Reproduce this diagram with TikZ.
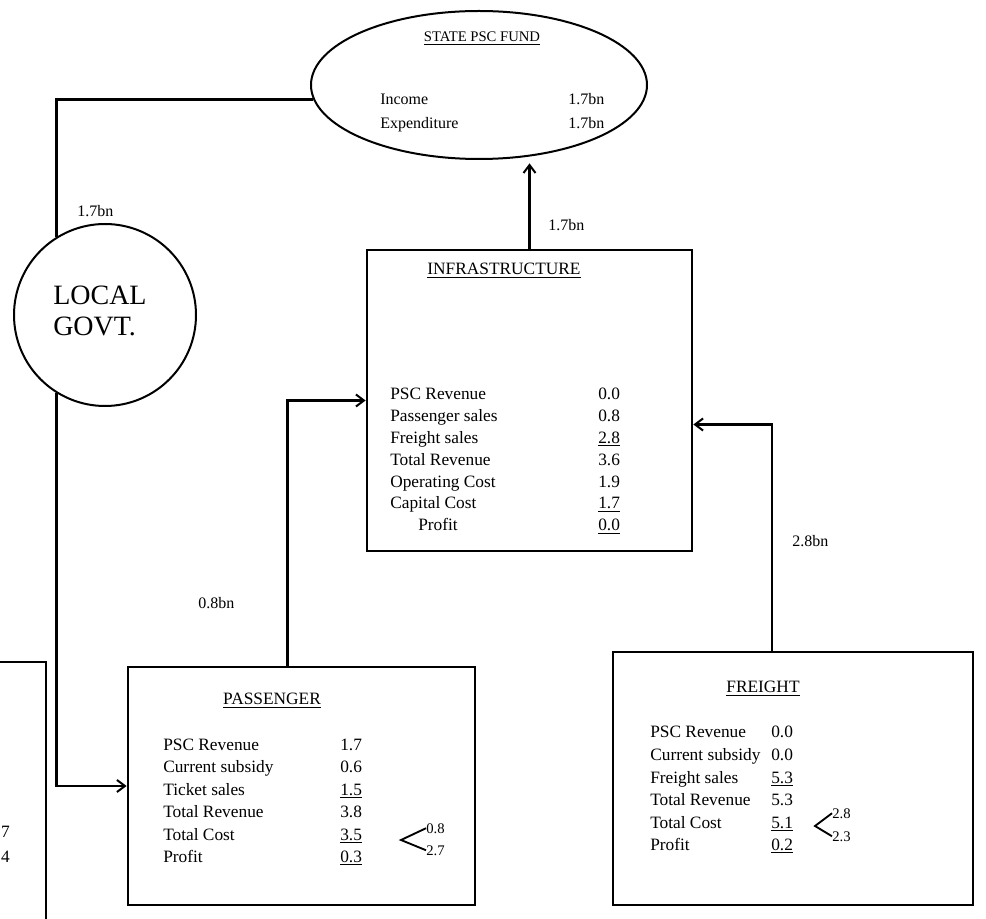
\documentclass[tikz,border=0pt]{standalone}
\usepackage{fontspec}
\setmainfont{Liberation Serif}
\usetikzlibrary{arrows.meta,shapes.geometric,calc}

\begin{document}
\begin{tikzpicture}[x=0.75pt,y=-0.75pt,
  frame/.style={draw, line width=2.1pt, rectangle, inner sep=0pt},
  rowtext/.style={font=\fontsize{13}{15}\selectfont, inner sep=0pt, anchor=base west},
  smalltext/.style={font=\fontsize{11}{13}\selectfont, inner sep=0pt, anchor=base west},
  titletext/.style={font=\fontsize{13}{15}\selectfont, inner sep=0pt, anchor=base},
  flowlabel/.style={font=\fontsize{12}{14}\selectfont, inner sep=0pt, anchor=base west},
  link/.style={line width=2.1pt},
  flow/.style={link, -{Straight Barb[length=6pt,width=9pt,line width=1.5pt]}},
]
\useasboundingbox (0,0) rectangle (986,919);
\clip (0,0) rectangle (986,919);

% ---- state fund (ellipse) ----
\node[draw, ellipse, line width=1.5pt, inner sep=0pt,
      minimum width=252pt, minimum height=111pt] (fund) at (479,85) {};
\node[titletext, font=\fontsize{11}{13}\selectfont] (fundT) at (482,42) {\underline{STATE PSC FUND}};
\node[rowtext, font=\fontsize{12}{14}\selectfont] (fundL1) at (380,105) {Income};
\node[rowtext, font=\fontsize{12}{14}\selectfont] (fundV1) at (568,105) {1.7bn};
\node[rowtext, font=\fontsize{12}{14}\selectfont] (fundL2) at (380,129) {Expenditure};
\node[rowtext, font=\fontsize{12}{14}\selectfont] (fundV2) at (568,129) {1.7bn};

% ---- local government (circle) ----
\node[draw, circle, line width=1.5pt, inner sep=0pt, minimum size=136.5pt] (gov) at (105,315) {};
\node[font=\fontsize{21}{23}\selectfont, inner sep=0pt, anchor=base west] (govA) at (53,305) {LOCAL};
\node[font=\fontsize{21}{23}\selectfont, inner sep=0pt, anchor=base west] (govB) at (53,336) {GOVT.};

% ---- infrastructure ----
\node[frame, minimum width=243.75pt, minimum height=225.75pt] (infra) at (529.5,400.5) {};
\node[titletext] (infraT) at (504,275) {\underline{INFRASTRUCTURE}};
\foreach \lab/\val [count=\i] in {PSC Revenue/0.0, Passenger sales/0.8,
    Freight sales/\underline{2.8}, Total Revenue/3.6, Operating Cost/1.9,
    Capital Cost/\underline{1.7}, \hspace*{21pt}Profit/\underline{0.0}} {
  \node[rowtext] (infraL\i) at (390,{400+(\i-1)*21.8}) {\lab};
  \node[rowtext] (infraV\i) at (598,{400+(\i-1)*21.8}) {\val};
}

% ---- passenger ----
\node[frame, minimum width=260.25pt, minimum height=178.5pt] (pass) at (301.5,786) {};
\node[titletext] (passT) at (272,705) {\underline{PASSENGER}};
\foreach \lab/\val [count=\i] in {PSC Revenue/1.7, Current subsidy/0.6,
    Ticket sales/\underline{1.5}, Total Revenue/3.8, Total Cost/\underline{3.5},
    Profit/\underline{0.3}} {
  \node[rowtext] (passL\i) at (163,{750+(\i-1)*22.5}) {\lab};
  \node[rowtext] (passV\i) at (340,{750+(\i-1)*22.5}) {\val};
}
\node[smalltext] (passS1) at (426,833) {0.8};
\node[smalltext] (passS2) at (426,855) {2.7};
\coordinate (passFork) at (401,840);
\draw[line width=1.4pt] (passS1.west) -- (passFork) -- (passS2.west);

% ---- freight ----
\node[frame, minimum width=270pt, minimum height=189.75pt] (freight) at (793,778.5) {};
\node[titletext] (freightT) at (763,693) {\underline{FREIGHT}};
\foreach \lab/\val [count=\i] in {PSC Revenue/0.0, Current subsidy/0.0,
    Freight sales/\underline{5.3}, Total Revenue/5.3, Total Cost/\underline{5.1},
    Profit/\underline{0.2}} {
  \node[rowtext] (freightL\i) at (650,{738+(\i-1)*22.5}) {\lab};
  \node[rowtext] (freightV\i) at (771,{738+(\i-1)*22.5}) {\val};
}
\node[smalltext] (freightS1) at (832,818) {2.8};
\node[smalltext] (freightS2) at (832,841) {2.3};
\coordinate (freightFork) at (815,826);
\draw[line width=1.4pt] (freightS1.west) -- (freightFork) -- (freightS2.west);

% ---- box running off the left edge ----
\node[frame, minimum width=184.5pt, minimum height=223.5pt] (side) at (-77,811) {};
\node[rowtext, anchor=base east] (sideV1) at (10,837) {7};
\node[rowtext, anchor=base east] (sideV2) at (10,862) {4};

% ---- money flows ----
\draw[link] (fund.185) -| (gov.122);
\node[flowlabel] (flowA) at (77,217) {1.7bn};
\draw[flow] (gov.238) |- (pass.west);
\draw[flow] ([xshift=-10.5pt]pass.north) |- (infra.west);
\node[flowlabel] (flowB) at (198,609) {0.8bn};
\draw[flow] ([xshift=-15.75pt]freight.north) |- ([yshift=-18pt]infra.east);
\node[flowlabel] (flowC) at (792,547) {2.8bn};
\draw[flow, shorten >=2.5pt] (infra.north) -- (infra.north |- fund.south);
\node[flowlabel] (flowD) at (548,231) {1.7bn};
\end{tikzpicture}
\end{document}
